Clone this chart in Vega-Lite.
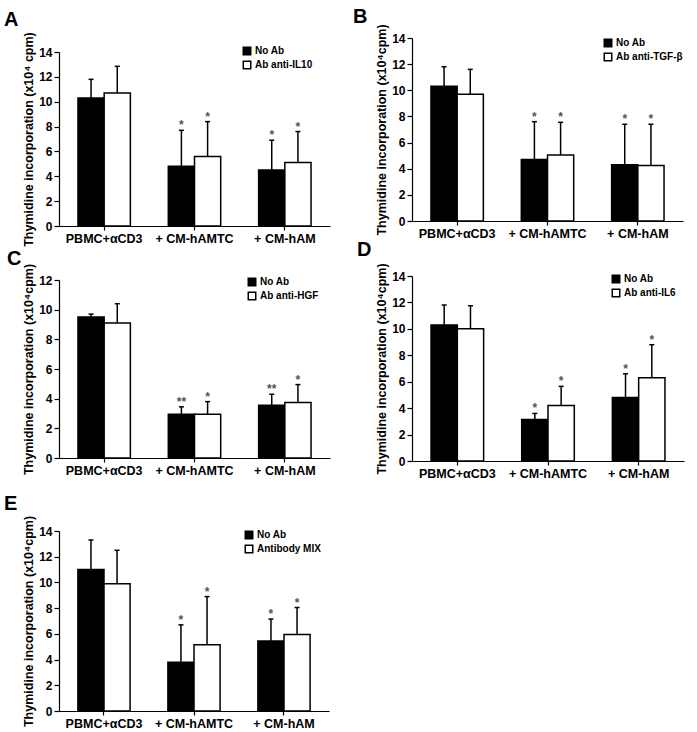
{
  "$schema": "https://vega.github.io/schema/vega-lite/v6.json",
  "padding": {"left": 4, "top": -6, "right": 5, "bottom": 5},
  "background": "white",
  "config": {
    "view": {"stroke": null},
    "font": "Liberation Sans",
    "axis": {"grid": false, "domainColor": "black", "tickColor": "black", "labelColor": "black", "titleColor": "black", "labelFont": "Liberation Sans", "titleFont": "Liberation Sans", "labelFontWeight": "bold", "titleFontWeight": "bold", "domainWidth": 1.2, "tickWidth": 1.2, "labelOverlap": false},
    "axisX": {"labelAngle": 0, "labelFontSize": 12.5, "labelPadding": 2, "tickSize": 4, "tickOffset": 45.17, "title": null},
    "axisY": {"tickSize": 5, "labelFontSize": 12, "labelPadding": 2, "titleFontSize": 12.5, "titlePadding": 3},
    "legend": {"labelFont": "Liberation Sans", "labelFontWeight": "bold", "labelFontSize": 10, "labelColor": "black", "symbolType": "square", "symbolSize": 56, "symbolStrokeColor": "black", "symbolStrokeWidth": 1.2, "rowPadding": 0, "labelOffset": 3, "orient": "none", "title": null},
    "title": {"font": "Liberation Sans", "fontWeight": "bold", "fontSize": 20, "color": "black", "anchor": "start", "frame": "group"},
    "bar": {"stroke": "black", "strokeWidth": 1.5},
    "rule": {"strokeWidth": 1.5, "color": "black"},
    "tick": {"thickness": 1.5, "color": "black", "opacity": 1},
    "text": {"fontSize": 12, "fontWeight": "bold", "color": "#555555", "baseline": "alphabetic", "dy": -1}
  },
  "datasets": {
    "A": [
      {"cond": "PBMC+αCD3", "grp": "No Ab", "v": 10.3, "top": 11.8, "sig": ""},
      {"cond": "PBMC+αCD3", "grp": "Ab anti-IL10", "v": 10.7, "top": 12.85, "sig": ""},
      {"cond": "+ CM-hAMTC", "grp": "No Ab", "v": 4.8, "top": 7.7, "sig": "*"},
      {"cond": "+ CM-hAMTC", "grp": "Ab anti-IL10", "v": 5.6, "top": 8.4, "sig": "*"},
      {"cond": "+ CM-hAM", "grp": "No Ab", "v": 4.5, "top": 6.9, "sig": "*"},
      {"cond": "+ CM-hAM", "grp": "Ab anti-IL10", "v": 5.1, "top": 7.6, "sig": "*"}
    ],
    "B": [
      {"cond": "PBMC+αCD3", "grp": "No Ab", "v": 10.3, "top": 11.8, "sig": ""},
      {"cond": "PBMC+αCD3", "grp": "Ab anti-TGF-β", "v": 9.7, "top": 11.6, "sig": ""},
      {"cond": "+ CM-hAMTC", "grp": "No Ab", "v": 4.7, "top": 7.6, "sig": "*"},
      {"cond": "+ CM-hAMTC", "grp": "Ab anti-TGF-β", "v": 5.05, "top": 7.55, "sig": "*"},
      {"cond": "+ CM-hAM", "grp": "No Ab", "v": 4.3, "top": 7.4, "sig": "*"},
      {"cond": "+ CM-hAM", "grp": "Ab anti-TGF-β", "v": 4.25, "top": 7.4, "sig": "*"}
    ],
    "C": [
      {"cond": "PBMC+αCD3", "grp": "No Ab", "v": 9.5, "top": 9.7, "sig": ""},
      {"cond": "PBMC+αCD3", "grp": "Ab anti-HGF", "v": 9.1, "top": 10.4, "sig": ""},
      {"cond": "+ CM-hAMTC", "grp": "No Ab", "v": 2.95, "top": 3.45, "sig": "**"},
      {"cond": "+ CM-hAMTC", "grp": "Ab anti-HGF", "v": 2.95, "top": 3.8, "sig": "*"},
      {"cond": "+ CM-hAM", "grp": "No Ab", "v": 3.55, "top": 4.3, "sig": "**"},
      {"cond": "+ CM-hAM", "grp": "Ab anti-HGF", "v": 3.75, "top": 4.95, "sig": "*"}
    ],
    "D": [
      {"cond": "PBMC+αCD3", "grp": "No Ab", "v": 10.3, "top": 11.8, "sig": ""},
      {"cond": "PBMC+αCD3", "grp": "Ab anti-IL6", "v": 10.0, "top": 11.75, "sig": ""},
      {"cond": "+ CM-hAMTC", "grp": "No Ab", "v": 3.15, "top": 3.6, "sig": "*"},
      {"cond": "+ CM-hAMTC", "grp": "Ab anti-IL6", "v": 4.2, "top": 5.65, "sig": "*"},
      {"cond": "+ CM-hAM", "grp": "No Ab", "v": 4.8, "top": 6.6, "sig": "*"},
      {"cond": "+ CM-hAM", "grp": "Ab anti-IL6", "v": 6.3, "top": 8.8, "sig": "*"}
    ],
    "E": [
      {"cond": "PBMC+αCD3", "grp": "No Ab", "v": 11.0, "top": 13.3, "sig": ""},
      {"cond": "PBMC+αCD3", "grp": "Antibody MIX", "v": 9.9, "top": 12.5, "sig": ""},
      {"cond": "+ CM-hAMTC", "grp": "No Ab", "v": 3.8, "top": 6.7, "sig": "*"},
      {"cond": "+ CM-hAMTC", "grp": "Antibody MIX", "v": 5.15, "top": 8.9, "sig": "*"},
      {"cond": "+ CM-hAM", "grp": "No Ab", "v": 5.45, "top": 7.15, "sig": "*"},
      {"cond": "+ CM-hAM", "grp": "Antibody MIX", "v": 5.95, "top": 8.05, "sig": "*"}
    ],
    "spacer": [{"s": 0}]
  },
  "resolve": {"scale": {"x": "independent", "y": "independent", "xOffset": "independent", "fill": "independent"}, "axis": {"x": "independent", "y": "independent"}, "legend": {"fill": "independent"}},
  "spacing": 23,
  "hconcat": [
    {
      "spacing": 2,
      "resolve": {"scale": {"x": "independent", "y": "independent", "xOffset": "independent", "fill": "independent"}, "axis": {"x": "independent", "y": "independent"}, "legend": {"fill": "independent"}},
      "vconcat": [
        {"width": 1, "height": 1, "data": {"name": "spacer"}, "mark": {"type": "text", "text": ""}},
        {
          "title": {"text": "A", "dx": -55, "offset": 2},
          "width": 271, "height": 174,
          "data": {"name": "A"},
          "encoding": {
            "x": {"field": "cond", "type": "nominal", "sort": ["PBMC+αCD3", "+ CM-hAMTC", "+ CM-hAM"], "scale": {"paddingInner": 0.42, "paddingOuter": 0.21}},
            "xOffset": {"field": "grp", "type": "nominal", "sort": ["No Ab", "Ab anti-IL10"], "scale": {"paddingInner": 0, "paddingOuter": 0}}
          },
          "layer": [
            {"mark": "bar",
             "encoding": {
               "y": {"field": "v", "type": "quantitative", "scale": {"domain": [0, 14]}, "axis": {"values": [0, 2, 4, 6, 8, 10, 12, 14]}, "title": "Thymidine incorporation (x10⁴ cpm)"},
               "fill": {"field": "grp", "type": "nominal", "sort": ["No Ab", "Ab anti-IL10"], "scale": {"domain": ["No Ab", "Ab anti-IL10"], "range": ["#000000", "#ffffff"]}, "legend": {"legendX": 183, "legendY": -6}}
             }},
            {"mark": "rule", "encoding": {"y": {"field": "v", "type": "quantitative", "axis": {"values": [0, 2, 4, 6, 8, 10, 12, 14]}, "title": "Thymidine incorporation (x10⁴ cpm)"}, "y2": {"field": "top"}}},
            {"mark": {"type": "tick", "size": 5}, "encoding": {"y": {"field": "top", "type": "quantitative", "axis": {"values": [0, 2, 4, 6, 8, 10, 12, 14]}, "title": "Thymidine incorporation (x10⁴ cpm)"}}},
            {"mark": "text", "encoding": {"y": {"field": "top", "type": "quantitative", "axis": {"values": [0, 2, 4, 6, 8, 10, 12, 14]}, "title": "Thymidine incorporation (x10⁴ cpm)"}, "text": {"field": "sig"}}}
          ]
        },
        {
          "title": {"text": "C", "dx": -52, "offset": -6},
          "width": 271, "height": 178,
          "data": {"name": "C"},
          "encoding": {
            "x": {"field": "cond", "type": "nominal", "sort": ["PBMC+αCD3", "+ CM-hAMTC", "+ CM-hAM"], "scale": {"paddingInner": 0.42, "paddingOuter": 0.21}},
            "xOffset": {"field": "grp", "type": "nominal", "sort": ["No Ab", "Ab anti-HGF"], "scale": {"paddingInner": 0, "paddingOuter": 0}}
          },
          "layer": [
            {"mark": "bar",
             "encoding": {
               "y": {"field": "v", "type": "quantitative", "scale": {"domain": [0, 12]}, "axis": {"values": [0, 2, 4, 6, 8, 10, 12]}, "title": "Thymidine incorporation (x10⁴cpm)"},
               "fill": {"field": "grp", "type": "nominal", "sort": ["No Ab", "Ab anti-HGF"], "scale": {"domain": ["No Ab", "Ab anti-HGF"], "range": ["#000000", "#ffffff"]}, "legend": {"legendX": 188, "legendY": -3}}
             }},
            {"mark": "rule", "encoding": {"y": {"field": "v", "type": "quantitative", "axis": {"values": [0, 2, 4, 6, 8, 10, 12]}, "title": "Thymidine incorporation (x10⁴cpm)"}, "y2": {"field": "top"}}},
            {"mark": {"type": "tick", "size": 5}, "encoding": {"y": {"field": "top", "type": "quantitative", "axis": {"values": [0, 2, 4, 6, 8, 10, 12]}, "title": "Thymidine incorporation (x10⁴cpm)"}}},
            {"mark": "text", "encoding": {"y": {"field": "top", "type": "quantitative", "axis": {"values": [0, 2, 4, 6, 8, 10, 12]}, "title": "Thymidine incorporation (x10⁴cpm)"}, "text": {"field": "sig"}}}
          ]
        },
        {
          "title": {"text": ["", "E"], "lineHeight": 15, "dx": -55, "offset": 1},
          "width": 270, "height": 180,
          "data": {"name": "E"},
          "encoding": {
            "x": {"field": "cond", "type": "nominal", "sort": ["PBMC+αCD3", "+ CM-hAMTC", "+ CM-hAM"], "scale": {"paddingInner": 0.42, "paddingOuter": 0.21}},
            "xOffset": {"field": "grp", "type": "nominal", "sort": ["No Ab", "Antibody MIX"], "scale": {"paddingInner": 0, "paddingOuter": 0}}
          },
          "layer": [
            {"mark": "bar",
             "encoding": {
               "y": {"field": "v", "type": "quantitative", "scale": {"domain": [0, 14]}, "axis": {"values": [0, 2, 4, 6, 8, 10, 12, 14]}, "title": "Thymidine incorporation (x10⁴cpm)"},
               "fill": {"field": "grp", "type": "nominal", "sort": ["No Ab", "Antibody MIX"], "scale": {"domain": ["No Ab", "Antibody MIX"], "range": ["#000000", "#ffffff"]}, "legend": {"legendX": 185, "legendY": -1}}
             }},
            {"mark": "rule", "encoding": {"y": {"field": "v", "type": "quantitative", "axis": {"values": [0, 2, 4, 6, 8, 10, 12, 14]}, "title": "Thymidine incorporation (x10⁴cpm)"}, "y2": {"field": "top"}}},
            {"mark": {"type": "tick", "size": 5}, "encoding": {"y": {"field": "top", "type": "quantitative", "axis": {"values": [0, 2, 4, 6, 8, 10, 12, 14]}, "title": "Thymidine incorporation (x10⁴cpm)"}}},
            {"mark": "text", "encoding": {"y": {"field": "top", "type": "quantitative", "axis": {"values": [0, 2, 4, 6, 8, 10, 12, 14]}, "title": "Thymidine incorporation (x10⁴cpm)"}, "text": {"field": "sig"}}}
          ]
        }
      ]
    },
    {
      "spacing": -1,
      "resolve": {"scale": {"x": "independent", "y": "independent", "xOffset": "independent", "fill": "independent"}, "axis": {"x": "independent", "y": "independent"}, "legend": {"fill": "independent"}},
      "vconcat": [
        {"width": 1, "height": 1, "data": {"name": "spacer"}, "mark": {"type": "text", "text": ""}},
        {
          "title": {"text": "B", "dx": -59, "offset": -3},
          "width": 271, "height": 183,
          "data": {"name": "B"},
          "encoding": {
            "x": {"field": "cond", "type": "nominal", "sort": ["PBMC+αCD3", "+ CM-hAMTC", "+ CM-hAM"], "scale": {"paddingInner": 0.42, "paddingOuter": 0.21}},
            "xOffset": {"field": "grp", "type": "nominal", "sort": ["No Ab", "Ab anti-TGF-β"], "scale": {"paddingInner": 0, "paddingOuter": 0}}
          },
          "layer": [
            {"mark": "bar",
             "encoding": {
               "y": {"field": "v", "type": "quantitative", "scale": {"domain": [0, 14]}, "axis": {"values": [0, 2, 4, 6, 8, 10, 12, 14]}, "title": "Thymidine incorporation (x10⁴cpm)"},
               "fill": {"field": "grp", "type": "nominal", "sort": ["No Ab", "Ab anti-TGF-β"], "scale": {"domain": ["No Ab", "Ab anti-TGF-β"], "range": ["#000000", "#ffffff"]}, "legend": {"legendX": 191, "legendY": 0}}
             }},
            {"mark": "rule", "encoding": {"y": {"field": "v", "type": "quantitative", "axis": {"values": [0, 2, 4, 6, 8, 10, 12, 14]}, "title": "Thymidine incorporation (x10⁴cpm)"}, "y2": {"field": "top"}}},
            {"mark": {"type": "tick", "size": 5}, "encoding": {"y": {"field": "top", "type": "quantitative", "axis": {"values": [0, 2, 4, 6, 8, 10, 12, 14]}, "title": "Thymidine incorporation (x10⁴cpm)"}}},
            {"mark": "text", "encoding": {"y": {"field": "top", "type": "quantitative", "axis": {"values": [0, 2, 4, 6, 8, 10, 12, 14]}, "title": "Thymidine incorporation (x10⁴cpm)"}, "text": {"field": "sig"}}}
          ]
        },
        {
          "title": {"text": "D", "dx": -55, "offset": 3},
          "width": 272, "height": 185,
          "data": {"name": "D"},
          "encoding": {
            "x": {"field": "cond", "type": "nominal", "sort": ["PBMC+αCD3", "+ CM-hAMTC", "+ CM-hAM"], "scale": {"paddingInner": 0.42, "paddingOuter": 0.21}},
            "xOffset": {"field": "grp", "type": "nominal", "sort": ["No Ab", "Ab anti-IL6"], "scale": {"paddingInner": 0, "paddingOuter": 0}}
          },
          "layer": [
            {"mark": "bar",
             "encoding": {
               "y": {"field": "v", "type": "quantitative", "scale": {"domain": [0, 14]}, "axis": {"values": [0, 2, 4, 6, 8, 10, 12, 14]}, "title": "Thymidine incorporation (x10⁴cpm)"},
               "fill": {"field": "grp", "type": "nominal", "sort": ["No Ab", "Ab anti-IL6"], "scale": {"domain": ["No Ab", "Ab anti-IL6"], "range": ["#000000", "#ffffff"]}, "legend": {"legendX": 199, "legendY": -2}}
             }},
            {"mark": "rule", "encoding": {"y": {"field": "v", "type": "quantitative", "axis": {"values": [0, 2, 4, 6, 8, 10, 12, 14]}, "title": "Thymidine incorporation (x10⁴cpm)"}, "y2": {"field": "top"}}},
            {"mark": {"type": "tick", "size": 5}, "encoding": {"y": {"field": "top", "type": "quantitative", "axis": {"values": [0, 2, 4, 6, 8, 10, 12, 14]}, "title": "Thymidine incorporation (x10⁴cpm)"}}},
            {"mark": "text", "encoding": {"y": {"field": "top", "type": "quantitative", "axis": {"values": [0, 2, 4, 6, 8, 10, 12, 14]}, "title": "Thymidine incorporation (x10⁴cpm)"}, "text": {"field": "sig"}}}
          ]
        }
      ]
    }
  ]
}
